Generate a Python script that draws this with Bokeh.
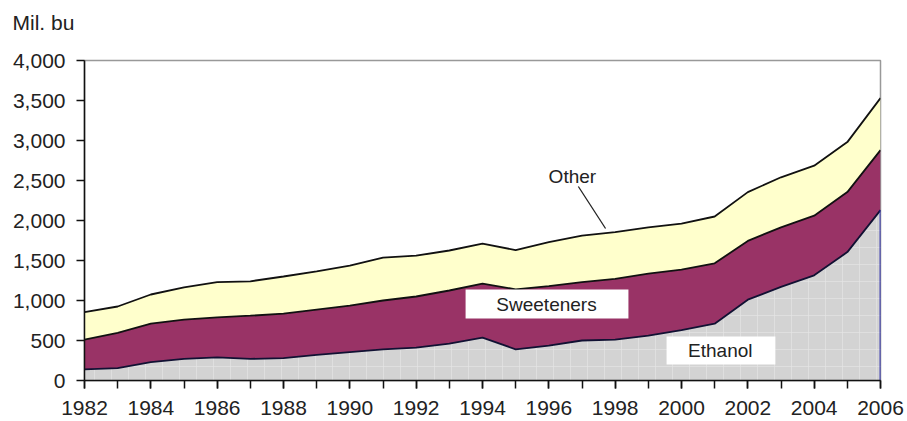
from bokeh.plotting import figure
from bokeh.models import ColumnDataSource, Label, FixedTicker, Range1d
from bokeh.transform import stack
from bokeh.embed import file_html
from bokeh.resources import INLINE

years = list(range(1982, 2007))
ethanol = [140, 155, 230, 270, 290, 270, 280, 320, 355, 390, 410, 460, 535,
           390, 435, 500, 510, 560, 630, 710, 1010, 1170, 1315, 1605, 2130]
sweeteners = [370, 440, 480, 490, 500, 540, 555, 565, 580, 610, 640, 665, 675,
              750, 745, 730, 760, 775, 755, 755, 735, 745, 745, 750, 750]
other = [345, 330, 365, 405, 440, 430, 465, 480, 500, 535, 510, 500, 500,
         490, 550, 580, 585, 580, 575, 585, 610, 625, 625, 625, 650]
label_years = [y for y in years if y % 2 == 0]
y_ticks = [0, 500, 1000, 1500, 2000, 2500, 3000, 3500, 4000]
y_label = "Mil. bu"
series_names = ["Ethanol", "Sweeteners", "Other"]

FONT = "Liberation Sans"
TXT = "#222222"

src = ColumnDataSource(dict(year=years, ethanol=ethanol, sweeteners=sweeteners, other=other))

p = figure(width=906, height=420, output_backend="svg", toolbar_location=None,
           x_range=Range1d(1982, 2006), y_range=Range1d(0, 4000),
           min_border_left=84, min_border_right=26, min_border_top=60, min_border_bottom=40)
p.background_fill_color = "white"
p.border_fill_color = "white"
p.outline_line_color = "#999999"
p.outline_line_width = 1.5
p.xgrid.visible = False
p.ygrid.visible = False

# unit label placed in the title panel; a blank second line lifts it to the top
p.title.text = y_label + "\n "
p.title.align = "left"
p.title.vertical_align = "top"
p.title.offset = -72
p.title.standoff = 4
p.title.text_font = FONT
p.title.text_font_size = "21px"
p.title.text_font_style = "normal"
p.title.text_color = TXT

fills = ["#D3D3D3", "#993366", "#FFFFCC"]
p.varea_stack(["ethanol", "sweeteners", "other"], x="year", color=fills, source=src)
# faint pattern in the gray area
p.varea(x="year", y1=0, y2="ethanol", source=src, fill_alpha=0,
        hatch_pattern="+", hatch_color="#E4E4E4", hatch_scale=17, hatch_weight=1, hatch_alpha=0.7)

p.line(x="year", y=stack("ethanol"), source=src, line_color="#111133", line_width=1.8)
p.line(x="year", y=stack("ethanol", "sweeteners"), source=src, line_color="#111111", line_width=1.8)
p.line(x="year", y=stack("ethanol", "sweeteners", "other"), source=src, line_color="#111111", line_width=1.8)
# right edge of ethanol area
p.segment(x0=years[-1], y0=0, x1=years[-1], y1=ethanol[-1], line_color="#2222AA", line_width=1.8)

# Axes
p.xaxis.ticker = FixedTicker(ticks=label_years, minor_ticks=years)
p.yaxis.ticker = FixedTicker(ticks=y_ticks)
p.yaxis.formatter.use_scientific = False
p.yaxis.major_label_overrides = {t: f"{t:,}" for t in y_ticks}
for ax in (p.xaxis[0], p.yaxis[0]):
    ax.axis_line_color = "#111111"
    ax.axis_line_width = 1.5
    ax.major_tick_line_color = "#111111"
    ax.major_tick_line_width = 1.5
    ax.major_tick_out = 8
    ax.major_tick_in = 0
    ax.major_label_text_font = FONT
    ax.major_label_text_color = TXT
p.yaxis.minor_tick_line_color = None
p.xaxis.minor_tick_line_color = "#111111"
p.xaxis.minor_tick_line_width = 1.5
p.xaxis.minor_tick_out = 8
p.xaxis.minor_tick_in = 0
p.xaxis.major_label_text_font_size = "21px"
p.xaxis.major_label_standoff = 12
p.yaxis.major_label_text_font_size = "21px"
p.yaxis.major_label_standoff = 11

# Series labels
p.add_layout(Label(x=1996.71, y=2550, text=series_names[2], text_font=FONT, text_font_size="19px",
                   text_color=TXT, text_baseline="middle", text_align="center"))
p.segment(x0=1996.89, y0=2425, x1=1997.71, y1=1900, line_color="#222222", line_width=1.3)

p.quad(left=1993.49, right=1998.40, bottom=775, top=1137, fill_color="white", line_color=None)
p.add_layout(Label(x=1995.93, y=945, text=series_names[1], text_font=FONT, text_font_size="19px",
                   text_color=TXT, text_baseline="middle", text_align="center"))

p.quad(left=1999.55, right=2002.83, bottom=200, top=550, fill_color="white", line_color=None)
p.add_layout(Label(x=2001.17, y=370, text=series_names[0], text_font=FONT, text_font_size="19px",
                   text_color=TXT, text_baseline="middle", text_align="center"))

open("out.html", "w").write(file_html(p, INLINE))
